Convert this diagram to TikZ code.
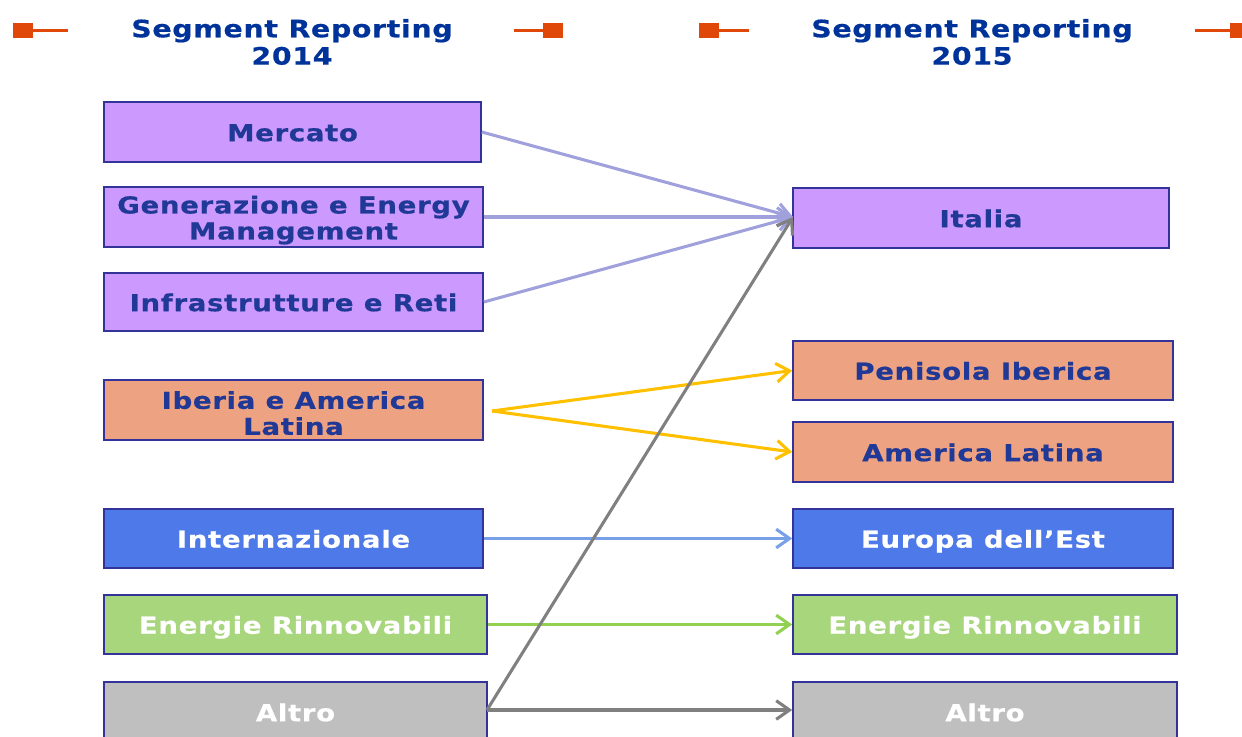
\documentclass[tikz,border=0pt]{standalone}
\usepackage{fontspec}
\setmainfont{DejaVu Sans}
\newfontfamily\boxfont{DejaVu Sans}[FakeStretch=1.18,LetterSpace=3,FakeBold=0.6]
\usetikzlibrary{arrows.meta}
\definecolor{purp}{RGB}{204,153,255}
\definecolor{salmon}{RGB}{237,162,130}
\definecolor{bluebox}{RGB}{78,121,232}
\definecolor{greenbox}{RGB}{168,214,124}
\definecolor{graybox}{RGB}{191,191,191}
\definecolor{edge}{RGB}{51,51,153}
\definecolor{txtblue}{RGB}{32,56,150}
\definecolor{titleblue}{RGB}{0,51,153}
\definecolor{orng}{RGB}{224,72,10}
\definecolor{lpurp}{RGB}{160,160,220}
\definecolor{yel}{RGB}{255,192,0}
\definecolor{lblue}{RGB}{120,160,230}
\definecolor{lgreen}{RGB}{146,208,80}
\definecolor{dgray}{RGB}{128,128,128}
\newcommand{\topstrut}{\rule{0pt}{18pt}}
\tikzset{
  box/.style={draw=edge, line width=1.2pt, rectangle, inner sep=0pt, align=center,
    font=\boxfont\fontsize{17.5}{19.5}\selectfont\bfseries, text=txtblue},
  wbox/.style={box, text=white},
  one/.style={text height=16.5pt, text depth=2.7pt},
  conn/.style={line width=2.3pt, -{Straight Barb[length=10pt,width=14pt,line width=2.3pt]}},
  ttl/.style={align=center, text=titleblue, font=\boxfont\fontsize{18}{20.5}\selectfont\bfseries},
  deco/.style={fill=orng, draw=none},
  decoline/.style={draw=orng, line width=2pt}
}
\begin{document}
\begin{tikzpicture}[x=0.75pt,y=-0.75pt]
\useasboundingbox (0,0) rectangle (1242,736);
\clip (0,0) rectangle (1242,736);
% titles
\node[ttl] (t1) at (292,42) {Segment Reporting\\2014};
\node[ttl] (t2) at (972,42) {Segment Reporting\\2015};
% orange decorations
\node[deco, minimum width=15pt, minimum height=11.25pt, inner sep=0pt] (d1) at (23,30.5) {};
\coordinate (d1e) at (68,30.5);
\draw[decoline] (d1) -- (d1e);
\node[deco, minimum width=15pt, minimum height=11.25pt, inner sep=0pt] (d2) at (553,30.5) {};
\coordinate (d2e) at (514,30.5);
\draw[decoline] (d2) -- (d2e);
\node[deco, minimum width=15pt, minimum height=11.25pt, inner sep=0pt] (d3) at (708.5,30.5) {};
\coordinate (d3e) at (749,30.5);
\draw[decoline] (d3) -- (d3e);
\node[deco, minimum width=15pt, minimum height=11.25pt, inner sep=0pt] (d4) at (1240,30.5) {};
\coordinate (d4e) at (1195,30.5);
\draw[decoline] (d4) -- (d4e);
% left boxes
\node[box, one, fill=purp, minimum width={377*0.75pt}, minimum height={60*0.75pt}] (mer) at (292.5,132) {Mercato};
\node[box, fill=purp, minimum width={379*0.75pt}, minimum height={60*0.75pt}] (gen) at (293.5,217) {\topstrut Generazione e Energy\\Management};
\node[box, one, fill=purp, minimum width={379*0.75pt}, minimum height={58*0.75pt}] (inf) at (293.5,302) {Infrastrutture e Reti};
\node[box, fill=salmon, minimum width={379*0.75pt}, minimum height={60*0.75pt}] (ibe) at (293.5,410) {\topstrut Iberia e America\\Latina};
\node[wbox, one, fill=bluebox, minimum width={379*0.75pt}, minimum height={59*0.75pt}] (int) at (293.5,538.5) {Internazionale};
\node[wbox, one, fill=greenbox, minimum width={383*0.75pt}, minimum height={59*0.75pt}] (ern) at (295.5,624.5) {Energie Rinnovabili};
\node[wbox, one, fill=graybox, minimum width={383*0.75pt}, minimum height={60*0.75pt}] (alt) at (295.5,712) {Altro};
% right boxes
\node[box, one, fill=purp, minimum width={376*0.75pt}, minimum height={60*0.75pt}] (ita) at (981,218) {Italia};
\node[box, one, fill=salmon, minimum width={380*0.75pt}, minimum height={59*0.75pt}] (pen) at (983,370.5) {Penisola Iberica};
\node[box, one, fill=salmon, minimum width={380*0.75pt}, minimum height={60*0.75pt}] (aml) at (983,452) {America Latina};
\node[wbox, one, fill=bluebox, minimum width={380*0.75pt}, minimum height={59*0.75pt}] (eur) at (983,538.5) {Europa dell’Est};
\node[wbox, one, fill=greenbox, minimum width={384*0.75pt}, minimum height={59*0.75pt}] (ern2) at (985,624.5) {Energie Rinnovabili};
\node[wbox, one, fill=graybox, minimum width={384*0.75pt}, minimum height={60*0.75pt}] (alt2) at (985,712) {Altro};
% connectors
\coordinate (itain) at (793,217);
\draw[conn, lpurp] (mer.east) -- (itain);
\draw[conn, lpurp] (gen.east) -- (itain);
\draw[conn, lpurp] (inf.east) -- (itain);
\coordinate (ibeout) at (492,411);
\draw[conn, yel] (ibeout) -- (pen.west);
\draw[conn, yel] (ibeout) -- (aml.west);
\draw[conn, lblue] (int.east) -- (eur.west);
\draw[conn, lgreen] (ern.east) -- (ern2.west);
\coordinate (altout) at (487,710);
\draw[conn, dgray] (altout) -- (itain);
\draw[conn, dgray] (altout) -- (alt2.west |- altout);
\end{tikzpicture}
\end{document}
